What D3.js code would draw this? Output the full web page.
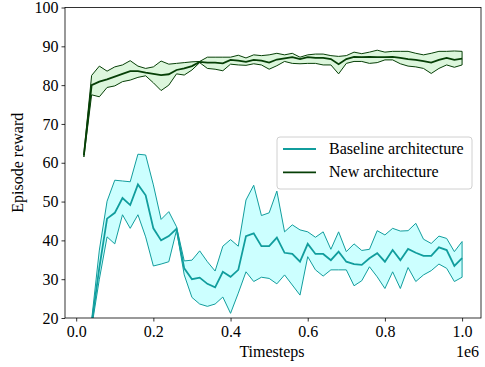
<!DOCTYPE html>
<html>
<head>
<meta charset="utf-8">
<script src="https://cdn.jsdelivr.net/npm/d3@7"></script>
<style>
  body { margin: 0; background: #fff; }
  svg text { font-family: "Liberation Serif", "Times New Roman", serif; fill: #000; }
</style>
</head>
<body>
<div id="chart"></div>
<script>
// timesteps of each evaluation
var steps = [20000, 40000, 60000, 80000, 100000, 120000, 140000, 160000, 180000, 200000,
    220000, 240000, 260000, 280000, 300000, 320000, 340000, 360000, 380000, 400000,
    420000, 440000, 460000, 480000, 500000, 520000, 540000, 560000, 580000, 600000,
    620000, 640000, 660000, 680000, 700000, 720000, 740000, 760000, 780000, 800000,
    820000, 840000, 860000, 880000, 900000, 920000, 940000, 960000, 980000, 1000000]

// Baseline architecture
var baseMean = [10, 18.5, 33, 45.6, 47.1, 50.9, 49.1, 54.4, 51.6, 43.1,
    40.0, 41.1, 43.0, 32.8, 30.0, 30.4, 28.8, 27.9, 31.9, 30.6,
    32.4, 41.1, 41.8, 38.5, 38.5, 40.7, 36.8, 36.5, 34.5, 39.1,
    36.5, 36.5, 34.9, 37.1, 34.5, 33.9, 33.7, 35.4, 36.7, 34.5,
    37.5, 34.9, 37.8, 36.8, 36.0, 36.0, 38.2, 37.5, 33.4, 35.4]
var baseUpper = [12, 19.5, 37.5, 50.1, 55.5, 55.3, 55.1, 62.2, 62.0, 54.3,
    45.4, 47.4, 43.5, 34.7, 34.9, 37.3, 34.5, 32.1, 38.5, 40.2,
    38.5, 50.4, 54.2, 46.4, 47.1, 52.7, 42.2, 44.0, 42.7, 42.2,
    40.8, 42.2, 37.7, 42.2, 37.1, 39.1, 37.4, 37.7, 42.5, 41.4,
    43.1, 42.4, 42.5, 44.4, 40.3, 39.2, 41.1, 40.5, 37.1, 39.7]
var baseLower = [8, 17.5, 30, 40.9, 39.1, 46.6, 43.1, 46.6, 40.9, 33.4,
    33.9, 34.5, 42.6, 31.1, 25.3, 23.6, 23.0, 23.6, 25.4, 21.2,
    26.4, 31.9, 29.4, 30.5, 30.2, 28.8, 31.1, 28.5, 25.9, 35.8,
    32.4, 30.8, 32.4, 32.4, 32.4, 28.3, 29.6, 33.2, 30.6, 27.6,
    31.9, 27.6, 33.0, 29.4, 31.1, 32.2, 33.9, 32.8, 29.4, 30.5]

// New architecture
var newMean = [62, 80.0, 80.9, 81.5, 82.2, 82.9, 83.6, 83.6, 83.2, 82.9,
    82.6, 82.8, 83.9, 84.3, 84.9, 86.0, 85.8, 85.8, 85.6, 86.5,
    86.3, 86.0, 86.5, 86.3, 85.8, 86.6, 86.9, 87.2, 86.7, 87.2,
    87.0, 87.0, 86.7, 85.4, 86.7, 87.3, 87.2, 87.3, 87.2, 87.2,
    87.3, 87.0, 86.7, 86.5, 86.2, 85.8, 86.5, 87.0, 86.5, 86.8]
var newUpper = [62.5, 82.5, 84.9, 83.6, 84.7, 85.2, 86.3, 84.9, 84.3, 84.7,
    86.2, 85.4, 85.6, 85.8, 86.0, 86.1, 87.2, 87.2, 87.2, 87.2,
    87.7, 87.0, 87.8, 87.6, 87.8, 88.2, 87.8, 88.2, 87.2, 87.8,
    88.0, 88.0, 87.6, 87.4, 87.6, 88.5, 88.1, 88.5, 89.0, 88.5,
    88.7, 88.7, 88.7, 88.2, 87.8, 88.2, 88.7, 88.7, 88.8, 88.7]
var newLower = [61.5, 77.5, 77.0, 79.4, 79.8, 80.9, 81.3, 82.0, 82.4, 80.6,
    78.6, 80.0, 82.9, 82.6, 83.9, 85.8, 84.3, 84.1, 83.7, 85.4,
    85.2, 85.1, 85.5, 85.2, 84.1, 85.0, 86.1, 85.6, 85.5, 85.6,
    85.6, 85.2, 85.2, 82.9, 85.6, 86.1, 86.1, 85.6, 85.8, 86.5,
    86.5, 85.5, 84.9, 84.7, 84.3, 83.0, 84.3, 85.2, 84.6, 85.2]

var xTicks = [0, 200000, 400000, 600000, 800000, 1000000]
var yTicks = [20, 30, 40, 50, 60, 70, 80, 90, 100]

var series = [
    { name: "Baseline architecture", mean: baseMean, upper: baseUpper, lower: baseLower, line: "#119d9d", fill: "#ccffff" },
    { name: "New architecture", mean: newMean, upper: newUpper, lower: newLower, line: "#063f06", fill: "#dcf6dc" }
]

var W = 485, H = 367
var plotL = 65, plotR = 481, plotT = 7.5, plotB = 318

var svg = d3.select("#chart")
    .append("svg")
    .attr("width", W)
    .attr("height", H)

const x = d3.scaleLinear()
    .domain([-29000, 1049000])
    .range([plotL, plotR])

const y = d3.scaleLinear()
    .domain([20, 100])
    .range([plotB, plotT])

svg.append("clipPath")
    .attr("id", "plotclip")
    .append("rect")
    .attr("x", plotL)
    .attr("y", plotT)
    .attr("width", plotR - plotL)
    .attr("height", plotB - plotT)

var plot = svg.append("g").attr("clip-path", "url(#plotclip)")

series.forEach(s => {
    var rows = steps.map((t, i) => ({ t: t, m: s.mean[i], hi: s.upper[i], lo: s.lower[i] }))

    var band = d3.area()
        .x(d => x(d.t))
        .y0(d => y(d.lo))
        .y1(d => y(d.hi))

    plot.append("path")
        .datum(rows)
        .attr("d", band)
        .attr("fill", s.fill)
        .attr("stroke", s.line)
        .attr("stroke-width", 1)

    plot.append("path")
        .datum(rows)
        .attr("d", d3.line().x(d => x(d.t)).y(d => y(d.m)))
        .attr("fill", "none")
        .attr("stroke", s.line)
        .attr("stroke-width", 1.8)
})

// axes
svg.append("g")
    .attr("transform", `translate(0,${plotB})`)
    .call(d3.axisBottom(x).tickValues(xTicks).tickFormat(d => (d / 1e6).toFixed(1)).tickSizeOuter(0).tickSize(3.5).tickPadding(4))
svg.append("g")
    .attr("transform", `translate(${plotL},0)`)
    .call(d3.axisLeft(y).tickValues(yTicks).tickSizeOuter(0).tickSize(3.5).tickPadding(3))

svg.selectAll(".tick text")
    .style("font-size", "16px")
    .style("font-family", "'Liberation Serif', serif")
svg.selectAll(".domain").remove()
svg.selectAll(".tick line").attr("stroke", "#000").attr("stroke-width", 0.8)

// frame
svg.append("rect")
    .attr("x", plotL)
    .attr("y", plotT)
    .attr("width", plotR - plotL)
    .attr("height", plotB - plotT)
    .attr("fill", "none")
    .attr("stroke", "#000")
    .attr("stroke-width", 0.8)

// axis labels
svg.append("text")
    .attr("x", 272)
    .attr("y", 357)
    .attr("text-anchor", "middle")
    .style("font-size", "16px")
    .text("Timesteps")

svg.append("text")
    .attr("x", plotR - 2)
    .attr("y", 357)
    .attr("text-anchor", "end")
    .style("font-size", "16px")
    .text("1e6")

svg.append("text")
    .attr("transform", `translate(23,${(plotT + plotB) / 2}) rotate(-90)`)
    .attr("text-anchor", "middle")
    .style("font-size", "16px")
    .text("Episode reward")

// legend
var legend = svg.append("g").attr("transform", "translate(277,137)")
legend.append("rect")
    .attr("width", 195)
    .attr("height", 52)
    .attr("rx", 3)
    .attr("fill", "#fff")
    .attr("fill-opacity", 0.8)
    .attr("stroke", "#d0d0d0")
    .attr("stroke-width", 1)

series.forEach((s, i) => {
    var gy = 12 + i * 23.3
    legend.append("line")
        .attr("x1", 6)
        .attr("x2", 39)
        .attr("y1", gy)
        .attr("y2", gy)
        .attr("stroke", s.line)
        .attr("stroke-width", 1.8)
    legend.append("text")
        .attr("x", 52)
        .attr("y", gy + 5)
        .style("font-size", "16px")
        .text(s.name)
})
</script>
</body>
</html>
